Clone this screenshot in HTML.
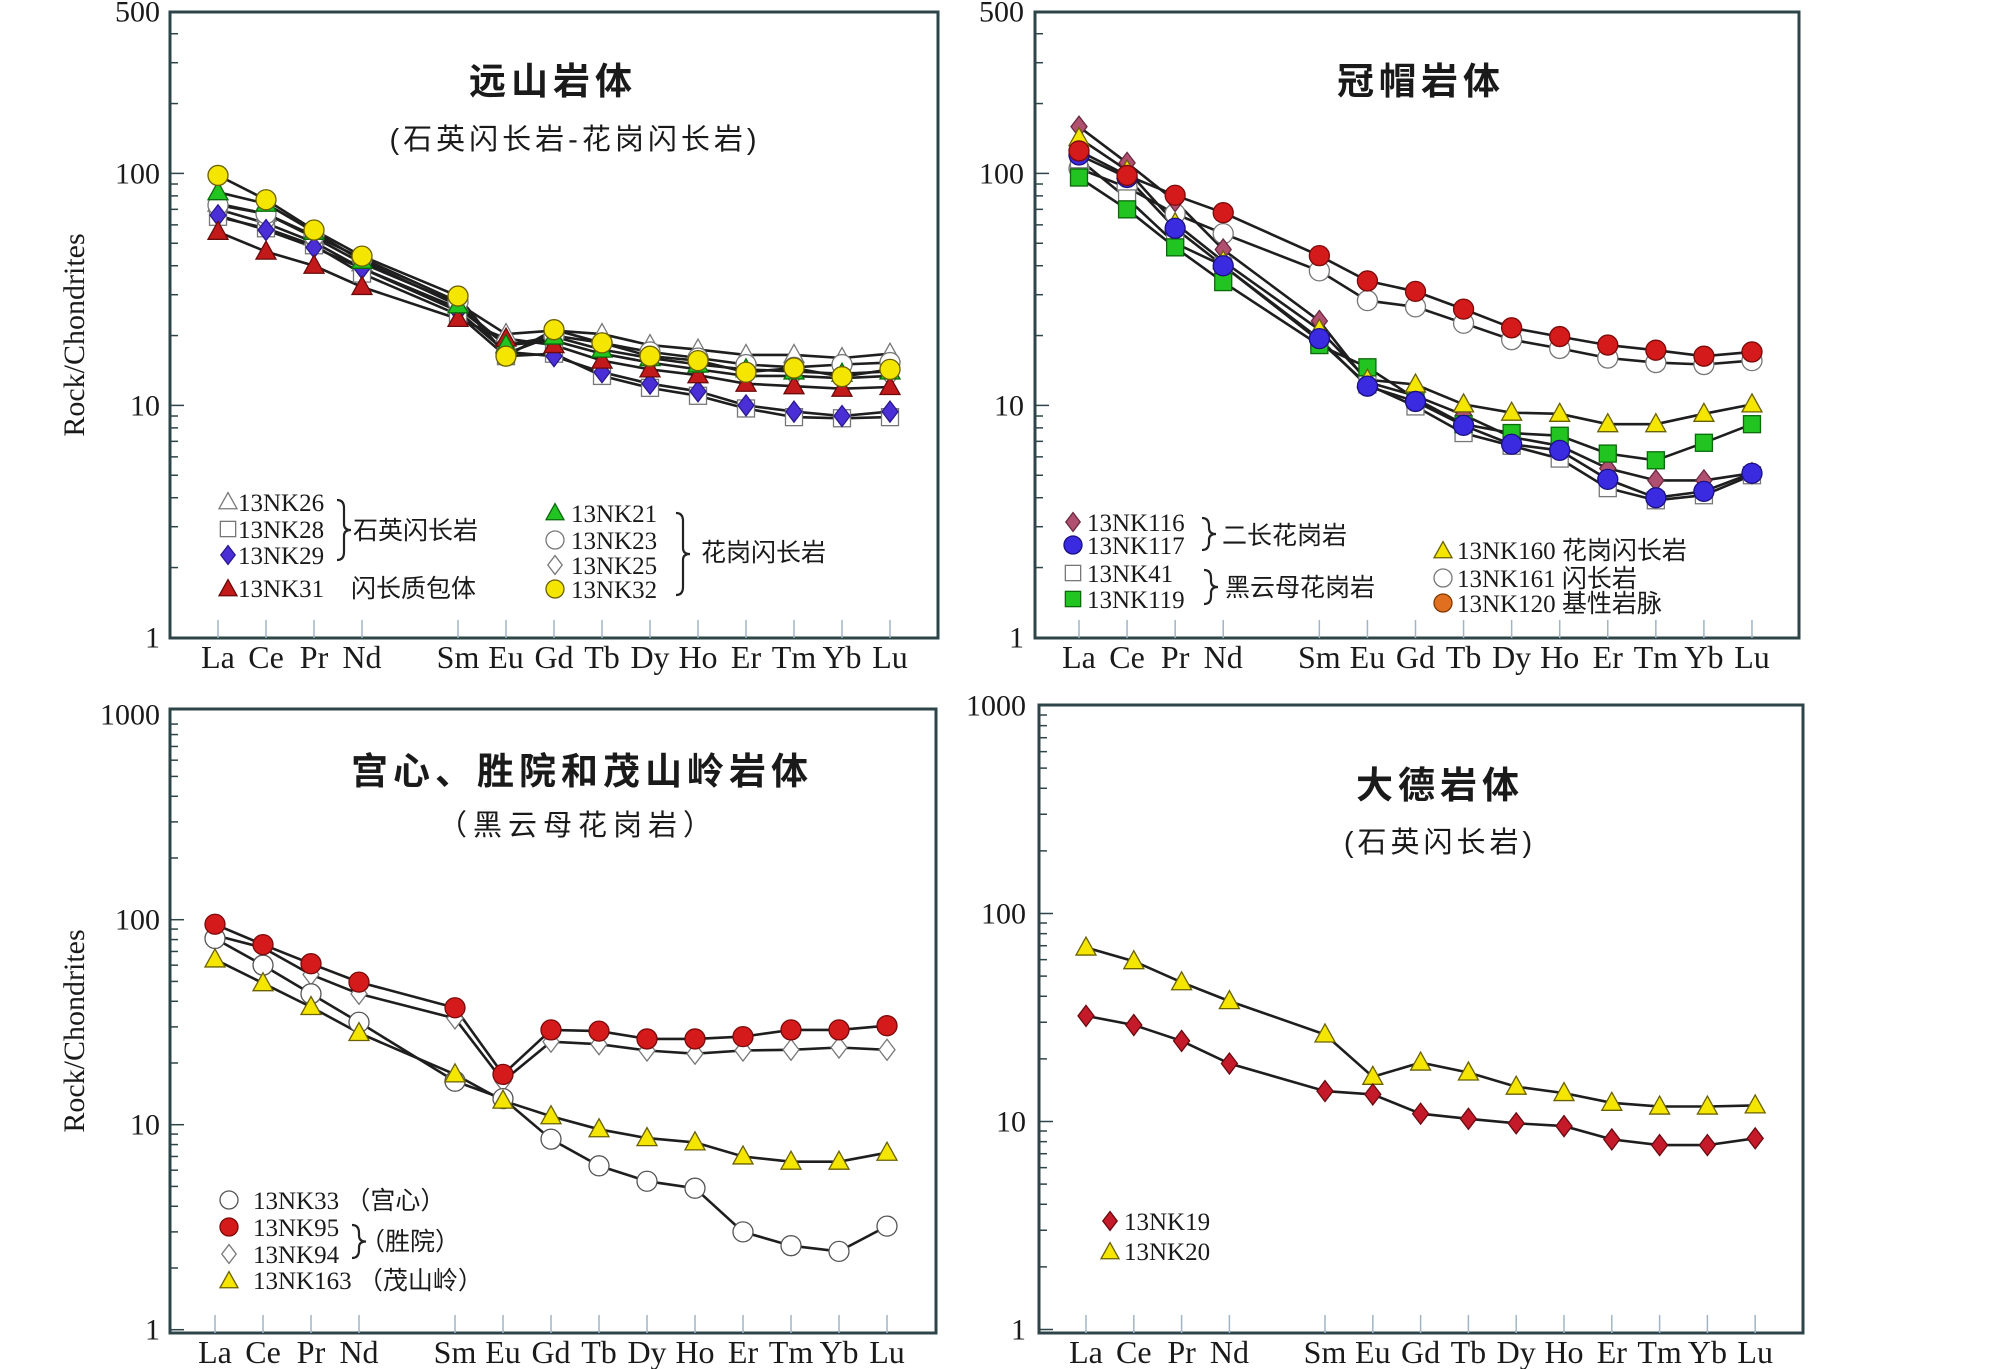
<!DOCTYPE html>
<html><head><meta charset="utf-8"><title>REE patterns</title>
<style>
html,body{margin:0;padding:0;background:#fff;overflow:hidden;}
svg{display:block;}
text{font-family:"Liberation Serif","Noto Sans CJK SC",serif;fill:#1a1a1a;}
.cjk{font-family:"Liberation Sans","Noto Sans CJK SC",sans-serif;}
</style></head>
<body>
<div style="position:relative;width:2008px;height:1369px;">
<svg id="chart" width="2008" height="1369" viewBox="0 0 2008 1369" xmlns="http://www.w3.org/2000/svg" style="position:absolute;left:0;top:0;"></svg>
<svg width="2008" height="1369" viewBox="0 0 2008 1369" xmlns="http://www.w3.org/2000/svg" style="position:absolute;left:0;top:0;">
 <text class="cjk" x="553" y="94" text-anchor="middle" font-size="37" font-weight="bold" letter-spacing="5" fill="#333">远山岩体</text>
 <text class="cjk" x="575" y="149" text-anchor="middle" font-size="29" letter-spacing="4" fill="#333">(石英闪长岩-花岗闪长岩)</text>
 <text class="cjk" x="1421" y="94" text-anchor="middle" font-size="37" font-weight="bold" letter-spacing="5" fill="#333">冠帽岩体</text>
 <text class="cjk" x="582" y="784" text-anchor="middle" font-size="37" font-weight="bold" letter-spacing="5" fill="#333">宫心、胜院和茂山岭岩体</text>
 <text class="cjk" x="578" y="835" text-anchor="middle" font-size="29" letter-spacing="6" fill="#333">（黑云母花岗岩）</text>
 <text class="cjk" x="1440" y="798" text-anchor="middle" font-size="37" font-weight="bold" letter-spacing="5" fill="#333">大德岩体</text>
 <text class="cjk" x="1440" y="852" text-anchor="middle" font-size="29" letter-spacing="4" fill="#333">(石英闪长岩)</text>
 <g font-size="25" fill="#222">
 <text x="238" y="511">13NK26</text>
 <text x="238" y="538">13NK28</text>
 <text x="238" y="564">13NK29</text>
 <text x="238" y="597">13NK31</text>
 <text class="cjk" x="353" y="539">石英闪长岩</text>
 <text class="cjk" x="351" y="597">闪长质包体</text>
 <text x="571" y="522">13NK21</text>
 <text x="571" y="549">13NK23</text>
 <text x="571" y="574">13NK25</text>
 <text x="571" y="598">13NK32</text>
 <text class="cjk" x="701" y="561">花岗闪长岩</text>
 <text x="1087" y="531">13NK116</text>
 <text x="1087" y="554">13NK117</text>
 <text x="1087" y="582">13NK41</text>
 <text x="1087" y="608">13NK119</text>
 <text class="cjk" x="1222" y="544">二长花岗岩</text>
 <text class="cjk" x="1225" y="596">黑云母花岗岩</text>
 <text x="1457" y="559">13NK160 <tspan class="cjk">花岗闪长岩</tspan></text>
 <text x="1457" y="587">13NK161 <tspan class="cjk">闪长岩</tspan></text>
 <text x="1457" y="612">13NK120 <tspan class="cjk">基性岩脉</tspan></text>
 <text x="253" y="1209">13NK33 <tspan class="cjk">（宫心）</tspan></text>
 <text x="253" y="1236">13NK95</text>
 <text x="253" y="1263">13NK94</text>
 <text class="cjk" x="360" y="1250">（胜院）</text>
 <text x="253" y="1289">13NK163 <tspan class="cjk">（茂山岭）</tspan></text>
 <text x="1124" y="1230">13NK19</text>
 <text x="1124" y="1260">13NK20</text>
 </g>
</svg>
</div>
<script>
// ---- data ----
const elements = ["La","Ce","Pr","Nd","Sm","Eu","Gd","Tb","Dy","Ho","Er","Tm","Yb","Lu"];
const elementSlots = ["La","Ce","Pr","Nd","Pm","Sm","Eu","Gd","Tb","Dy","Ho","Er","Tm","Yb","Lu"];
const ticks500 = [1,10,100,500];
const ticks1000 = [1,10,100,1000];

const nk26 = [74,67,53,41,27.5,20.3,21,20.3,18.2,17.4,16.5,16.5,16,16.7];
const nk28 = [65,58,49,37,24.6,16.3,16.7,13.4,11.9,11.0,9.7,8.9,8.8,8.9];
const nk29 = [66,57,48,39,25.5,17,16.3,13.9,12.4,11.5,10,9.4,9,9.4];
const nk31 = [56,46,40,32.4,23.6,19.4,18.2,15.6,14.3,13.5,12.4,12.1,11.8,12];
const nk21 = [83,74,56,42,27,18.2,19.8,17.4,16,15,14.3,14,13.7,14];
const nk23 = [73,67,54,43,28,16.7,20,18.6,17,16,15,14.6,15,15.3];
const nk25 = [70,61,50.5,39,26.3,18.2,19,16.7,15.3,14.3,13.4,13.4,13.1,13.4];
const nk32 = [98,77,57,44,29.6,16.3,21.2,18.6,16.3,15.6,13.9,14.5,13.3,14.3];
const nk116 = [159,111,76,47,23.1,12.6,11.0,9.1,7.3,6.7,5.35,4.75,4.75,5.1];
const nk117 = [120,96,58,40,19.4,12.1,10.4,8.2,6.8,6.4,4.8,4.0,4.26,5.1];
const nk41 = [115,78,50,40,19,12.3,9.9,7.6,6.7,5.9,4.4,3.9,4.1,5.0];
const nk119 = [96,70,48,34,18.2,14.6,10.7,8.3,7.6,7.4,6.2,5.8,6.9,8.3];
const nk160 = [142,103,61,41.8,21.2,12.9,12.3,10.1,9.3,9.2,8.3,8.3,9.2,10.1];
const nk161 = [105,87,67,55,38,28.3,26.6,22.6,19.2,17.6,16.0,15.3,15.0,15.6];
const nk120 = [125,98,80.5,67.7,44.2,34.4,31.0,26.0,21.6,19.8,18.2,17.3,16.3,17.0];
const nk33 = [81,60,43.5,31.6,16.3,13.4,8.5,6.3,5.3,4.9,3.0,2.57,2.41,3.2];
const nk95 = [95,75.6,61,49.6,37.2,17.6,29,28.6,26.2,26.2,26.9,29,29,30.4];
const nk94 = [84,73,54,43.5,33,16.3,25.4,24.7,23,22.2,23,23.2,23.8,23.2];
const nk163 = [64,49,37.5,28,17.6,13.1,11.0,9.5,8.6,8.2,7.0,6.6,6.6,7.3];
const nk20 = [68.6,59,46.7,37.9,26.2,16.4,19.2,17.2,14.7,13.7,12.3,11.8,11.8,11.95];
const nk19 = [32.2,29.1,24.4,19.0,14.0,13.5,10.9,10.3,9.8,9.5,8.2,7.7,7.7,8.3];

const NS="http://www.w3.org/2000/svg";
const svg=document.getElementById('chart');
function mk(tag,attrs,parent){const e=document.createElementNS(NS,tag);for(const k in attrs)e.setAttribute(k,attrs[k]);(parent||svg).appendChild(e);return e;}

const panels=[
 {id:'p1',box:[170,12,938,638],laX:218,dx:48,y1:637.4,dec:232,max:500,ticks:ticks500,lblX:160,ylab:true,
  series:[
   {n:'13NK26',d:nk26,s:'tri',f:'#fff',st:'#777'},
   {n:'13NK28',d:nk28,s:'sq',f:'#fff',st:'#777'},
   {n:'13NK25',d:nk25,s:'dia',f:'#fff',st:'#777'},
   {n:'13NK23',d:nk23,s:'cir',f:'#fff',st:'#777'},
   {n:'13NK29',d:nk29,s:'dia',f:'#4b2fd6',st:'#2a1a90'},
   {n:'13NK31',d:nk31,s:'tri',f:'#c21a1a',st:'#6a0a0a'},
   {n:'13NK21',d:nk21,s:'tri',f:'#22c422',st:'#0a6a0a'},
   {n:'13NK32',d:nk32,s:'cir',f:'#f4e600',st:'#6a6000'}]},
 {id:'p2',box:[1035,12,1799,638],laX:1079,dx:48.07,y1:637.4,dec:232,max:500,ticks:ticks500,lblX:1024,ylab:false,
  series:[
   {n:'13NK161',d:nk161,s:'cir',f:'#fff',st:'#777'},
   {n:'13NK41',d:nk41,s:'sq',f:'#fff',st:'#777'},
   {n:'13NK116',d:nk116,s:'dia',f:'#b05070',st:'#6a2a40'},
   {n:'13NK119',d:nk119,s:'sq',f:'#22c422',st:'#0a6a0a'},
   {n:'13NK160',d:nk160,s:'tri',f:'#f4e600',st:'#6a6000'},
   {n:'13NK117',d:nk117,s:'cir',f:'#3a2ae0',st:'#1a1080'},
   {n:'13NK120',d:nk120,s:'cir',f:'#d41a1a',st:'#7a0a0a'}]},
 {id:'p3',box:[170,709,936,1333],laX:215,dx:48,y1:1329.7,dec:205,max:1000,ticks:ticks1000,lblX:160,ylab:true,
  series:[
   {n:'13NK94',d:nk94,s:'dia',f:'#fff',st:'#777'},
   {n:'13NK33',d:nk33,s:'cir',f:'#fff',st:'#555'},
   {n:'13NK163',d:nk163,s:'tri',f:'#f4e600',st:'#6a6000'},
   {n:'13NK95',d:nk95,s:'cir',f:'#d41a1a',st:'#7a0a0a'}]},
 {id:'p4',box:[1039,705,1803,1333],laX:1086,dx:47.8,y1:1329.5,dec:208,max:1000,ticks:ticks1000,lblX:1026,ylab:false,
  series:[
   {n:'13NK20',d:nk20,s:'tri',f:'#f4e600',st:'#6a6000'},
   {n:'13NK19',d:nk19,s:'dia',f:'#c41a2a',st:'#6a0a10'}]}
];

function marker(g,shape,x,y,f,st,r){
 r=r||10;
 if(shape==='cir') return mk('circle',{cx:x,cy:y,r:r,fill:f,stroke:st,'stroke-width':1.3},g);
 if(shape==='sq') return mk('rect',{x:x-r*0.85,y:y-r*0.85,width:r*1.7,height:r*1.7,fill:f,stroke:st,'stroke-width':1.3},g);
 if(shape==='tri') return mk('polygon',{points:`${x},${y-r*1.05} ${x-r},${y+r*0.75} ${x+r},${y+r*0.75}`,fill:f,stroke:st,'stroke-width':1.3},g);
 return mk('polygon',{points:`${x},${y-r*1.05} ${x+r*0.8},${y} ${x},${y+r*1.05} ${x-r*0.8},${y}`,fill:f,stroke:st,'stroke-width':1.3},g);
}

panels.forEach(p=>{
 const g=mk('g',{});
 
 
 const [L,T,R,B]=p.box;
 const yS=v=>p.y1-Math.log10(v)*p.dec;
 const xS=el=>p.laX+elementSlots.indexOf(el)*p.dx;
 const frame=mk('rect',{x:L,y:T,width:R-L,height:B-T,fill:'none',stroke:'#2d4448','stroke-width':3},g);
 
 
 const top=Math.log10(p.max);
 for(let d=0;d<Math.ceil(top);d++){
  for(let m=1;m<=9;m++){
   const v=m*Math.pow(10,d); if(Math.log10(v)>top+1e-9) continue;
   const y=yS(v); const len=(m===1)?14:8;
   const tk=mk('line',{x1:L,x2:L+len,y1:y,y2:y,stroke:'#2d4448','stroke-width':1.5},g);
   
   
  }
 }
 p.ticks.forEach(t=>{
  const tx=mk('text',{x:p.lblX,y:yS(t)+10,'text-anchor':'end','font-size':30},g);
  tx.textContent=String(t);
  
  
 });
 elements.forEach(el=>{
  const x=xS(el);
  const tk=mk('line',{x1:x,x2:x,y1:B,y2:B-18,stroke:'#9fb4c4','stroke-width':1.5},g);
  
  
  const tx=mk('text',{x:x,y:B+30,'text-anchor':'middle','font-size':32},g);
  tx.textContent=el;
  
  
 });
 if(p.ylab){
  const cy=(T+B)/2+10;
  const yl=mk('text',{x:0,y:0,'text-anchor':'middle','font-size':30,transform:`translate(84,${cy}) rotate(-90)`},g);
  yl.textContent='Rock/Chondrites';
  
  
 }
 p.series.forEach(s=>{
  const pts=s.d.map((v,i)=>xS(elements[i]).toFixed(1)+','+yS(v).toFixed(1)).join(' ');
  const ln=mk('polyline',{points:pts,fill:'none',stroke:'#1e1e1e','stroke-width':2.6},g);
  
  
 });
 p.series.forEach(s=>{
  const mg=mk('g',{},g);
  
  
  s.d.forEach((v,i)=>{
   const m=marker(mg,s.s,xS(elements[i]),yS(v),s.f,s.st,10);
   
   
  });
 });
});

function legendMarker(name,shape,x,y,f,st){
 const m=marker(svg,shape,x,y,f,st,9);
 
 
}
function brace(name,x,y1,y2){
 const ym=(y1+y2)/2;
 const p=mk('path',{d:`M${x},${y1} q7,0 7,8 L${x+7},${ym-6} q0,6 7,6 q-7,0 -7,6 L${x+7},${y2-8} q0,8 -7,8`,fill:'none',stroke:'#222','stroke-width':2.2});
 
 
}
legendMarker('legend-marker-13nk26','tri',228,502,'#fff','#777');
legendMarker('legend-marker-13nk28','sq',228,529,'#fff','#777');
legendMarker('legend-marker-13nk29','dia',228,555,'#4b2fd6','#2a1a90');
legendMarker('legend-marker-13nk31','tri',228,589,'#c21a1a','#6a0a0a');
legendMarker('legend-marker-13nk21','tri',555,513,'#22c422','#0a6a0a');
legendMarker('legend-marker-13nk23','cir',555,540,'#fff','#777');
legendMarker('legend-marker-13nk25','dia',555,565,'#fff','#777');
legendMarker('legend-marker-13nk32','cir',555,589,'#f4e600','#6a6000');
legendMarker('legend-marker-13nk116','dia',1073,522,'#b05070','#6a2a40');
legendMarker('legend-marker-13nk117','cir',1073,545,'#3a2ae0','#1a1080');
legendMarker('legend-marker-13nk41','sq',1073,573,'#fff','#777');
legendMarker('legend-marker-13nk119','sq',1073,599,'#22c422','#0a6a0a');
legendMarker('legend-marker-13nk160','tri',1443,551,'#f4e600','#6a6000');
legendMarker('legend-marker-13nk161','cir',1443,578,'#fff','#777');
legendMarker('legend-marker-13nk120','cir',1443,603,'#e07020','#803a00');
legendMarker('legend-marker-13nk33','cir',229,1200,'#fff','#555');
legendMarker('legend-marker-13nk95','cir',229,1227,'#d41a1a','#7a0a0a');
legendMarker('legend-marker-13nk94','dia',229,1254,'#fff','#777');
legendMarker('legend-marker-13nk163','tri',229,1281,'#f4e600','#6a6000');
legendMarker('legend-marker-13nk19','dia',1110,1221,'#c41a2a','#6a0a10');
legendMarker('legend-marker-13nk20','tri',1110,1252,'#f4e600','#6a6000');
brace('brace-qdiorite',337,500,560);
brace('brace-granodiorite',676,513,595);
brace('brace-monzogranite',1202,518,550);
brace('brace-biotite-granite',1204,570,604);
brace('brace-shengyuan',352,1225,1258);
</script>
</body></html>
